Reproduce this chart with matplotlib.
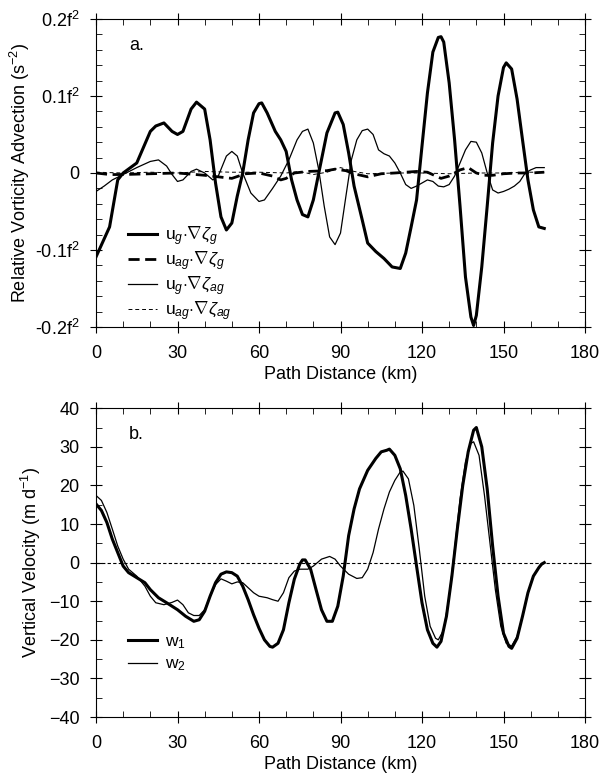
import matplotlib.pyplot as plt
import numpy as np

plt.rcParams['font.family'] = ['Liberation Sans', 'DejaVu Sans']
plt.rcParams['mathtext.fontset'] = 'custom'
plt.rcParams['mathtext.rm'] = 'Liberation Sans'
plt.rcParams['mathtext.it'] = 'Liberation Sans:italic'

# panel a: relative vorticity advection (units of f^2)
x_gg = [0, 5, 8, 10, 15, 20, 22, 25, 28, 30, 32, 35, 37, 40, 42, 44, 46, 48, 50, 52,
        54, 56, 58, 60, 61, 63, 66, 68, 70, 72, 74, 76, 78, 80, 82, 85, 88, 89, 91, 93,
        95, 98, 100, 103, 106, 109, 112, 114, 116, 118, 120, 122, 124, 126, 127, 128,
        130, 132, 134, 136, 138, 139, 140, 142, 144, 146, 148, 150, 151, 153, 155, 157,
        159, 161, 163, 165]
ug_gg = [-0.109, -0.07, -0.009, 0.0, 0.013, 0.054, 0.061, 0.065, 0.054, 0.05, 0.054,
         0.083, 0.092, 0.083, 0.043, -0.013, -0.057, -0.074, -0.065, -0.03, 0.0, 0.043,
         0.078, 0.09, 0.091, 0.078, 0.054, 0.043, 0.028, -0.009, -0.035, -0.054, -0.057,
         -0.035, 0.0, 0.052, 0.078, 0.079, 0.063, 0.026, -0.017, -0.061, -0.091, -0.102,
         -0.111, -0.122, -0.124, -0.104, -0.07, -0.035, 0.035, 0.104, 0.157, 0.176,
         0.177, 0.17, 0.117, 0.043, -0.043, -0.135, -0.187, -0.198, -0.185, -0.122,
         -0.043, 0.039, 0.1, 0.137, 0.143, 0.135, 0.096, 0.043, -0.009, -0.048, -0.07,
         -0.072]

x_gag = [0, 3, 6, 10, 15, 20, 23, 26, 28, 30, 32, 35, 37, 40, 43, 45, 48, 50, 52, 54,
         57, 60, 62, 65, 68, 71, 74, 76, 78, 80, 82, 84, 86, 88, 90, 92, 94, 96, 98, 100,
         102, 104, 106, 108, 110, 112, 114, 116, 118, 120, 122, 124, 126, 128, 130, 132,
         134, 136, 138, 140, 142, 144, 146, 148, 150, 152, 154, 156, 158, 160, 162, 164,
         165]
ug_gag = [-0.024, -0.017, -0.009, -0.002, 0.007, 0.015, 0.017, 0.009, -0.002, -0.011,
          -0.009, 0.002, 0.005, 0.0, -0.009, -0.004, 0.022, 0.028, 0.022, 0.0, -0.026,
          -0.037, -0.035, -0.02, -0.004, 0.017, 0.043, 0.054, 0.057, 0.039, 0.004,
          -0.043, -0.083, -0.093, -0.078, -0.03, 0.017, 0.043, 0.055, 0.057, 0.05, 0.03,
          0.025, 0.022, 0.013, 0.0, -0.015, -0.02, -0.017, -0.013, -0.009, -0.011,
          -0.017, -0.018, -0.015, -0.004, 0.013, 0.03, 0.041, 0.04, 0.026, 0.0, -0.022,
          -0.026, -0.024, -0.021, -0.017, -0.011, 0.0, 0.004, 0.007, 0.007, 0.007]

x_agg = [0, 5, 10, 20, 30, 40, 45, 50, 55, 60, 65, 68, 70, 73, 78, 85, 88, 92, 95, 100,
         105, 110, 118, 122, 127, 130, 134, 137, 140, 143, 146, 150, 155, 160, 165]
uag_gg = [0.0, -0.002, -0.002, -0.001, 0.0, -0.003, -0.005, -0.007, -0.001, 0.0, -0.004,
          -0.009, -0.007, 0.0, 0.002, 0.003, 0.005, 0.003, -0.001, -0.005, -0.001, 0.0,
          0.002, 0.001, -0.007, -0.004, 0.004, 0.007, 0.0, -0.003, -0.003, -0.001, 0.0,
          0.0, 0.001]

x_agag = [0, 10, 20, 30, 40, 50, 60, 70, 75, 80, 85, 90, 95, 100, 110, 120, 130, 140,
          150, 160, 165]
uag_gag = [0.001, 0.0, 0.001, 0.0, 0.002, 0.001, 0.001, 0.0, 0.002, -0.002, 0.001,
           0.007, 0.002, -0.001, 0.0, 0.0, -0.001, 0.0, 0.0, 0.001, 0.001]

ytick_vals_a = [-0.2, -0.1, 0, 0.1, 0.2]
ytick_labels_a = ['-0.2f$^2$', '-0.1f$^2$', '0', '0.1f$^2$', '0.2f$^2$']

# panel b: vertical velocity (m/day)
x_w1 = [0, 2, 4, 6, 8, 10, 12, 15, 18, 20, 23, 26, 30, 33, 36, 38, 40, 42, 44, 46, 48,
        50, 52, 54, 56, 58, 60, 62, 64, 65, 67, 69, 71, 73, 75, 76, 77, 79, 81, 83, 85,
        87, 89, 91, 93, 95, 97, 100, 103, 105, 107, 108, 110, 112, 114, 116, 118, 120,
        122, 124, 125.5, 127, 129, 131, 133, 135, 137, 139, 140, 142, 144, 146, 148,
        150, 152, 153, 155, 157, 159, 161, 163, 164, 165]
w1 = [15.2, 13.5, 10.4, 6.1, 2.6, -0.9, -2.6, -3.9, -5.2, -7.0, -9.1, -10.4, -12.2,
      -13.9, -15.2, -14.8, -12.6, -8.7, -5.2, -3.0, -2.4, -2.6, -3.5, -6.1, -9.6, -13.5,
      -17.0, -20.0, -21.7, -21.9, -20.9, -17.4, -10.4, -4.3, -0.4, 0.7, 0.7, -1.7, -7.0,
      -12.2, -15.2, -15.2, -11.3, -3.5, 7.0, 13.9, 19.1, 23.9, 27.0, 28.7, 29.1, 29.4,
      27.8, 24.3, 17.4, 8.7, -0.9, -10.4, -17.4, -20.9, -21.9, -20.4, -13.9, -3.5, 8.7,
      20.0, 28.7, 34.3, 35.0, 30.0, 19.1, 4.3, -8.7, -18.3, -21.7, -22.2, -19.6, -13.9,
      -7.8, -3.5, -1.3, -0.4, 0.0]

x_w2 = [0, 2, 4, 6, 8, 10, 12, 15, 18, 20, 22, 25, 28, 30, 32, 34, 36, 38, 40, 42, 44,
        46, 48, 50, 52, 54, 56, 58, 60, 63, 65, 67, 69, 71, 73, 75, 78, 80, 83, 86, 88,
        90, 93, 96, 98, 100, 102, 104, 106, 108, 110, 112, 113, 115, 117, 119, 121, 123,
        125, 126, 128, 130, 132, 134, 136, 138, 139, 141, 143, 145, 147, 149, 151, 153,
        155, 157, 159, 161, 163, 165]
w2 = [17.4, 16.1, 13.0, 8.7, 4.3, 0.9, -1.7, -3.5, -6.1, -8.7, -10.4, -10.9, -10.3,
      -9.7, -10.9, -13.0, -13.7, -13.7, -12.2, -8.7, -5.7, -4.2, -4.8, -5.5, -5.0, -5.2,
      -6.5, -7.8, -8.7, -9.1, -9.6, -10.0, -7.8, -3.9, -2.2, -1.7, -1.7, -0.9, 0.9, 1.6,
      0.9, -0.9, -3.0, -4.1, -3.9, -1.7, 2.6, 8.7, 13.9, 18.3, 21.3, 23.5, 23.7, 21.7,
      14.8, 3.5, -8.7, -16.5, -19.6, -20.0, -17.4, -8.7, 3.5, 16.5, 26.1, 30.9, 31.3,
      27.8, 17.4, 5.2, -7.0, -16.5, -20.9, -21.6, -19.1, -13.9, -7.8, -3.5, -1.3, 0.0]

fig = plt.figure(figsize=(6.0, 7.74), dpi=100)
ax1 = fig.add_axes([0.16, 0.5775, 0.815, 0.398])
ax2 = fig.add_axes([0.16, 0.0736, 0.815, 0.399])

ax1.plot(x_gg, ug_gg, color='black', lw=2.2, label=r'u$_{g}$$\cdot\nabla\zeta_{g}$')
ax1.plot(x_agg, uag_gg, color='black', lw=2.0, dashes=(4, 2),
         label=r'u$_{ag}$$\cdot\nabla\zeta_{g}$')
ax1.plot(x_gag, ug_gag, color='black', lw=0.9, label=r'u$_{g}$$\cdot\nabla\zeta_{ag}$')
ax1.plot(x_agag, uag_gag, color='black', lw=0.7, dashes=(4, 3),
         label=r'u$_{ag}$$\cdot\nabla\zeta_{ag}$')
ax1.set_ylim(-0.2, 0.2)
ax1.set_yticks(ytick_vals_a)
ax1.set_yticklabels(ytick_labels_a)
ax1.set_yticks(np.arange(-0.2, 0.201, 0.02), minor=True)
ax1.set_ylabel('Relative Vorticity Advection (s$^{-2}$)', fontsize=13, labelpad=2)
ax1.text(0.068, 0.9, 'a.', transform=ax1.transAxes, fontsize=13)
ax1.legend(loc='upper left', bbox_to_anchor=(0.051, 0.357), frameon=False, fontsize=12.5,
           handlelength=1.7, labelspacing=0.08, handletextpad=0.45, borderaxespad=0)

ax2.axhline(0, color='black', lw=0.8, dashes=(3, 2))
ax2.plot(x_w1, w1, color='black', lw=2.2, label='w$_1$')
ax2.plot(x_w2, w2, color='black', lw=0.9, label='w$_2$')
ax2.set_ylim(-40, 40)
ax2.set_yticks(range(-40, 41, 10))
ax2.set_yticks(range(-40, 41, 5), minor=True)
ax2.set_ylabel('Vertical Velocity (m d$^{-1}$)', fontsize=13, labelpad=4)
ax2.text(0.068, 0.9, 'b.', transform=ax2.transAxes, fontsize=13)
ax2.legend(loc='upper left', bbox_to_anchor=(0.051, 0.29), frameon=False, fontsize=12.5,
           handlelength=1.7, labelspacing=0.3, handletextpad=0.45, borderaxespad=0)

for ax in (ax1, ax2):
    ax.set_xlim(0, 180)
    ax.set_xticks(range(0, 181, 30))
    ax.set_xticks(range(0, 181, 10), minor=True)
    ax.set_xlabel('Path Distance (km)', fontsize=13, labelpad=3)
    ax.tick_params(which='major', direction='inout', length=8, width=0.8,
                   top=True, right=True, labelsize=13)
    ax.tick_params(axis='x', which='major', pad=9)
    ax.tick_params(axis='y', which='major', pad=8)
    ax.tick_params(which='minor', direction='in', length=4, width=0.6,
                   top=True, right=True)
    for s in ax.spines.values():
        s.set_linewidth(0.8)

fig.savefig('out.png', dpi=100)
